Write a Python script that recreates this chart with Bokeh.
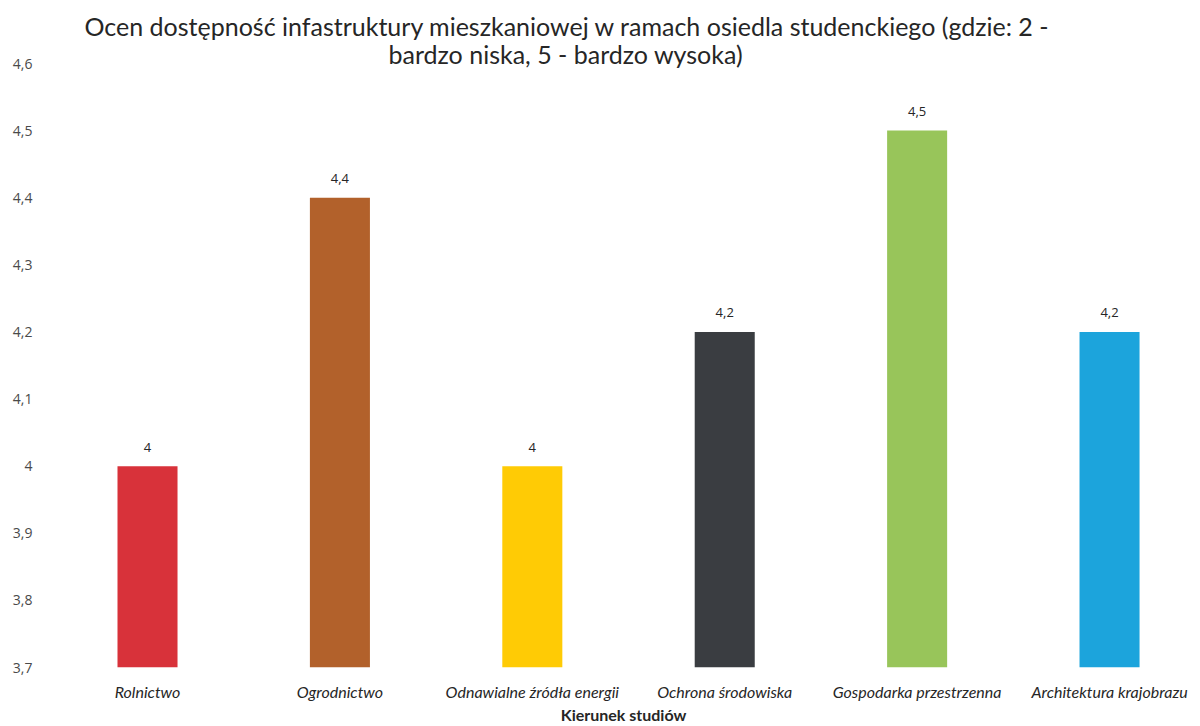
import numpy as np
from bokeh.plotting import figure
from bokeh.models import Range1d, FixedTicker, Title, ColumnDataSource
from bokeh.core.properties import value
from bokeh.embed import file_html
from bokeh.resources import INLINE

# ---- data ----
categories = ["Rolnictwo", "Ogrodnictwo", "Odnawialne źródła energii",
              "Ochrona środowiska", "Gospodarka przestrzenna", "Architektura krajobrazu"]
values = [4.0, 4.4, 4.0, 4.2, 4.5, 4.2]
y_ticks = [3.7, 3.8, 3.9, 4.0, 4.1, 4.2, 4.3, 4.4, 4.5, 4.6]
y_tick_labels = ["3,7", "3,8", "3,9", "4", "4,1", "4,2", "4,3", "4,4", "4,5", "4,6"]
title_lines = ["Ocen dostępność infastruktury mieszkaniowej w ramach osiedla studenckiego (gdzie: 2 -",
               "bardzo niska, 5 - bardzo wysoka)"]
x_title = "Kierunek studiów"
palette = ["#d8323a", "#b2612b", "#ffcb05", "#3a3d41", "#98c55a", "#1ca4dc"]

def fmt(v):
    return ("%g" % v).replace(".", ",")

xs = np.arange(len(categories)) + 0.5
src = ColumnDataSource(dict(x=xs, top=values, color=palette[:len(categories)],
                            lab=[fmt(v) for v in values]))

FW, FH = 1146, 604
p = figure(title=None, frame_width=FW, frame_height=FH, output_backend="svg",
           toolbar_location=None,
           x_range=Range1d(-0.0042, 5.952), y_range=Range1d(3.7, 4.6),
           min_border_left=50, min_border_right=4, min_border_top=63, min_border_bottom=59)
p.outline_line_color = None
p.xgrid.visible = False
p.ygrid.visible = False
p.background_fill_color = "white"
p.border_fill_color = "white"

p.vbar(x="x", top="top", bottom=3.7, width=0.312, fill_color="color",
       line_color=None, source=src)
p.text(x="x", y="top", text="lab", source=src, text_align="center",
       text_baseline="middle", y_offset=-19, text_font=value("Open Sans"),
       text_font_size="13px", text_color="#262626")

# y axis
ya = p.yaxis[0]
ya.ticker = FixedTicker(ticks=y_ticks)
ya.major_label_overrides = {t: l for t, l in zip(y_ticks, y_tick_labels)}
ya.axis_line_color = None
ya.major_tick_line_color = None
ya.minor_tick_line_color = None
ya.major_tick_out = 0
ya.major_tick_in = 0
ya.minor_tick_out = 0
ya.major_label_standoff = 18
ya.major_label_text_font = "Open Sans"
ya.major_label_text_font_size = "14px"
ya.major_label_text_color = "#4a4a4a"

# x axis
xa = p.xaxis[0]
xa.ticker = FixedTicker(ticks=list(xs))
xa.major_label_overrides = {float(x): c for x, c in zip(xs, categories)}
xa.axis_line_color = None
xa.major_tick_line_color = None
xa.minor_tick_line_color = None
xa.major_tick_out = 0
xa.major_tick_in = 0
xa.minor_tick_out = 0
xa.major_label_standoff = 14
xa.major_label_text_font = "Lato"
xa.major_label_text_font_style = "italic"
xa.major_label_text_font_size = "16px"
xa.major_label_text_color = "#262626"
xa.axis_label = x_title
xa.axis_label_standoff = 1
xa.axis_label_text_font = "Lato"
xa.axis_label_text_font_style = "bold"
xa.axis_label_text_font_size = "16px"
xa.axis_label_text_color = "#262626"

# title: two lines, second line nearest the frame
t2 = Title(text=title_lines[1], align="left", offset=338, standoff=-11,
           vertical_align="bottom", text_font="Lato", text_font_size="25px",
           text_font_style="normal", text_color="#262626")
t1 = Title(text=title_lines[0], align="left", offset=34, standoff=3,
           vertical_align="bottom", text_font="Lato", text_font_size="25px",
           text_font_style="normal", text_color="#262626")
p.add_layout(t2, "above")
p.add_layout(t1, "above")

open("out.html", "w").write(file_html(p, INLINE))
